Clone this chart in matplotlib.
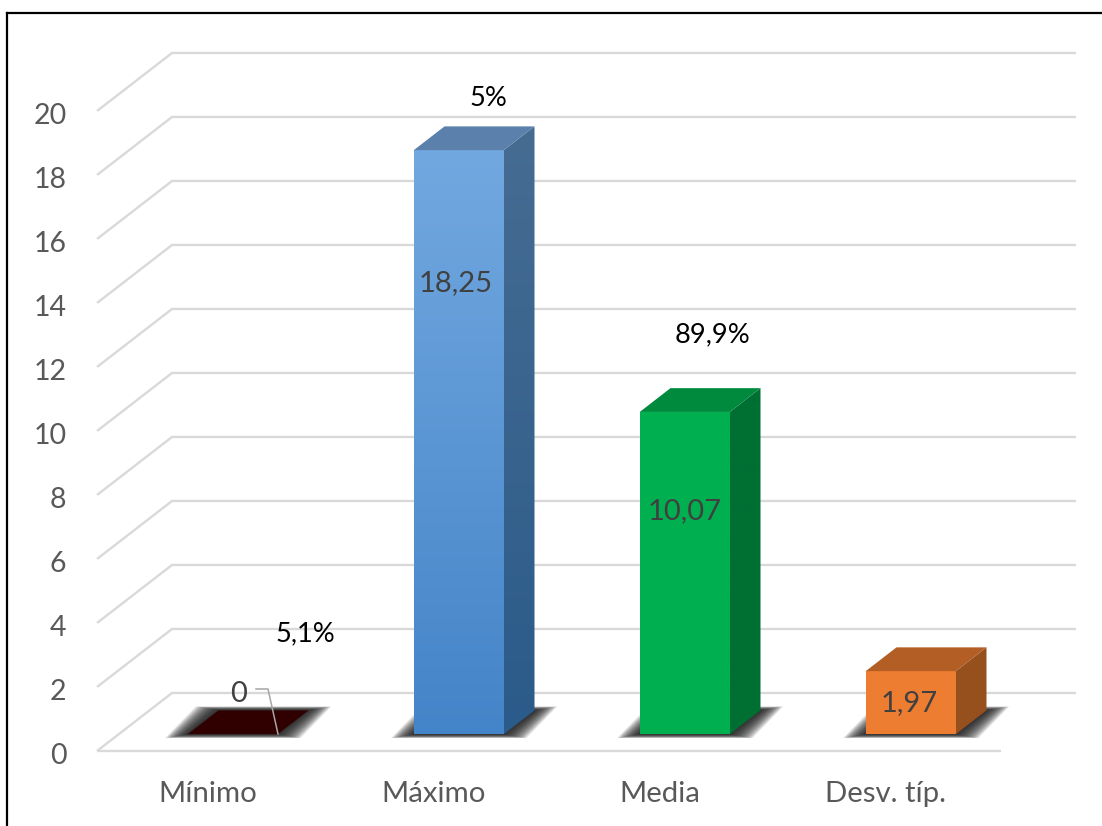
import numpy as np
import matplotlib
matplotlib.use('Agg')
import matplotlib.pyplot as plt
from matplotlib.colors import to_rgb
from matplotlib.patches import Polygon

plt.rcParams['font.family'] = ['Lato', 'DejaVu Sans']

categories = ['Mínimo', 'Máximo', 'Media', 'Desv. típ.']
values = [0, 18.25, 10.07, 1.97]
value_labels = ['0', '18,25', '10,07', '1,97']
percent_labels = ['5,1%', '5%', '89,9%', None]
y_ticks = [0, 2, 4, 6, 8, 10, 12, 14, 16, 18, 20]

face_top = ['#300000', '#72A8E0', '#00B050', '#ED7D31']
face_bottom = ['#300000', '#4484C8', '#00B050', '#ED7D31']
side_top = ['#300000', '#466C92', '#006F32', '#96501E']
side_bottom = ['#300000', '#2B5B8A', '#006F32', '#96501E']
cap_colors = ['#300000', '#5A80AB', '#008A3E', '#B25E25']

W, H = 1102, 826
UX, UY = 226.0, 32.0      # pixels per category / per value unit
X0, Y0 = 97 + UX / 2, 751  # pixel position of category 0, value 0 on the front edge
DEPTH_X, DEPTH_Y = 75 / UX, 58 / UY  # full floor depth in data units
BAR_W = 90 / UX
BAR_SHIFT = 1 / UX
BAR_D0, BAR_D1 = 0.29, 0.70
GRID = '#D9D9D9'


def px(xp, yp):
    # pixel position (from the top left) to data coordinates
    return (xp - X0) / UX, (Y0 - yp) / UY


def proj(x, v, d):
    return x + DEPTH_X * d, v + DEPTH_Y * d


def gradient(ax, poly, top, bottom, z):
    xs, ys = zip(*poly)
    t = np.linspace(0, 1, 128)[:, None, None]
    img = (1 - t) * np.array(to_rgb(top)) + t * np.array(to_rgb(bottom))
    im = ax.imshow(img, extent=(min(xs), max(xs), min(ys), max(ys)), origin='upper',
                   aspect='auto', interpolation='bilinear', zorder=z)
    clip = Polygon(poly, closed=True, transform=ax.transData, fc='none', ec='none')
    ax.add_patch(clip)
    im.set_clip_path(clip)


def draw_shadow(ax, x, w):
    # soft shadow on the floor, built from stacked polygons that grow outwards
    for e in np.linspace(23, 0, 40):
        ex, ey = e / UX, e * 4 / 23 / UY
        fl, fr = x - w / 2 - ex, x + w / 2 + ex
        pts = [proj(fl, -ey, BAR_D0), proj(fr, -ey, BAR_D0),
               proj(fr, ey, BAR_D1), proj(fl, ey, BAR_D1)]
        ax.add_patch(Polygon(pts, closed=True, fc='#202020', ec='none', alpha=0.05, zorder=3))


def draw_bar(ax, i, v):
    c = i + BAR_SHIFT
    l, r = c - BAR_W / 2, c + BAR_W / 2
    front = [proj(l, 0, BAR_D0), proj(r, 0, BAR_D0), proj(r, v, BAR_D0), proj(l, v, BAR_D0)]
    side = [proj(r, 0, BAR_D0), proj(r, 0, BAR_D1), proj(r, v, BAR_D1), proj(r, v, BAR_D0)]
    cap = [proj(l, v, BAR_D0), proj(r, v, BAR_D0), proj(r, v, BAR_D1), proj(l, v, BAR_D1)]
    if v > 0:
        gradient(ax, front, face_top[i], face_bottom[i], 4)
        gradient(ax, side, side_top[i], side_bottom[i], 4)
    ax.add_patch(Polygon(cap, closed=True, fc=cap_colors[i], ec='none', zorder=4))


fig = plt.figure(figsize=(W / 100, H / 100), dpi=100)
ax = fig.add_axes([7 / W, 0, (W - 7) / W, (H - 13) / H])
ax.set_xticks([])
ax.set_yticks([])
for s in ['right', 'bottom']:
    ax.spines[s].set_visible(False)
for s in ['top', 'left']:
    ax.spines[s].set_linewidth(1.6)
    ax.spines[s].set_color('black')

# back wall and side wall gridlines
n = len(categories)
for t in y_ticks:
    a = proj(-0.5, t, 0)
    b = proj(-0.5, t, 1)
    c = proj(n - 0.5, t, 1)
    ax.plot([a[0], b[0], c[0]], [a[1], b[1], c[1]], color=GRID, lw=1.7, zorder=1,
            solid_joinstyle='miter', solid_capstyle='butt')
    ax.text(*px(66.5, Y0 - UY * t + 2), str(t), ha='right', va='center_baseline', fontsize=20.5, color='#595959')
ax.plot([-0.5, n - 0.5], [0, 0], color=GRID, lw=1.7, zorder=1, solid_capstyle='butt')

for i, v in enumerate(values):
    draw_shadow(ax, i + BAR_SHIFT, BAR_W)
for i, v in enumerate(values):
    draw_bar(ax, i, v)

# leader line for the zero label
lx, ly = zip(px(256, 689), px(268, 689), px(278, 734))
ax.plot(lx, ly, color='#A6A6A6', lw=1.1, zorder=5)

value_pos = [(239, 692), (456, 281), (685, 509), (909, 701)]
for (xp, yp), s in zip(value_pos, value_labels):
    ax.text(*px(xp, yp), s, ha='center', va='center_baseline', fontsize=21, color='#404040', zorder=6)

percent_pos = [(305, 631), (488, 96), (712, 332), None]
for pos, s in zip(percent_pos, percent_labels):
    if s is not None:
        ax.text(*px(*pos), s, ha='center', va='center_baseline', fontsize=19.6, color='black', zorder=6)

for i, s in enumerate(categories):
    ax.text(*px(X0 + UX * i - 2.5, 791.5), s, ha='center', va='center_baseline', fontsize=21.2, color='#595959')

xa, ya = px(7, 13)
xb, yb = px(W, H)
ax.set_xlim(xa, xb)
ax.set_ylim(yb, ya)

fig.savefig('out.png', dpi=100)
